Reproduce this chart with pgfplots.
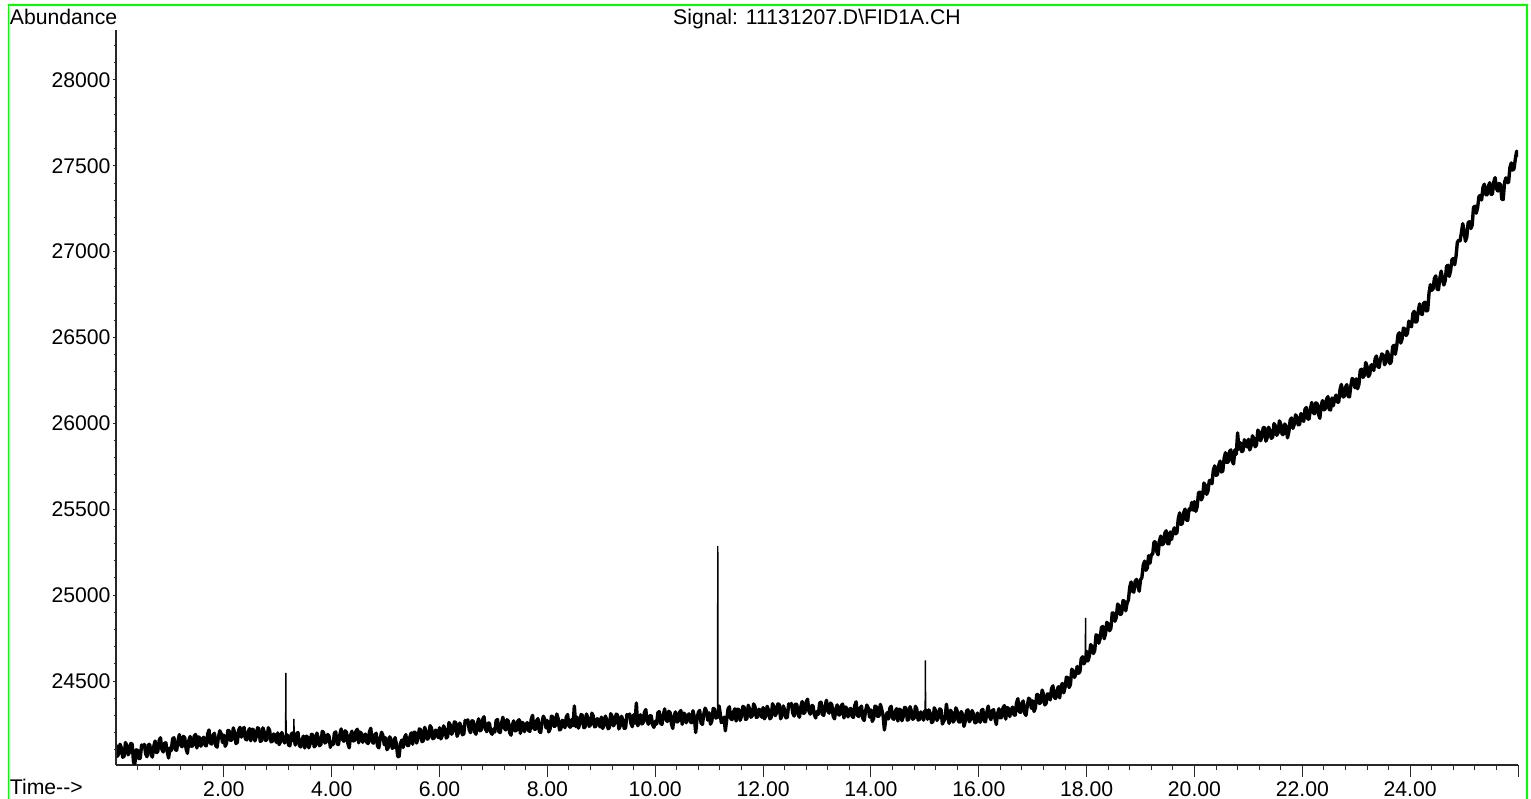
\documentclass[border=0pt]{standalone}
\usepackage{fontspec}
\setmainfont{Liberation Sans}
\usepackage{pgfplots}
\pgfplotsset{compat=1.18}
\definecolor{framegreen}{RGB}{0,255,0}
\definecolor{spine}{RGB}{40,40,40}
\begin{document}
\begin{tikzpicture}
\fontsize{10.6}{12}\selectfont
\path[use as bounding box] (0pt,0pt) rectangle (765.5pt,399pt);
% outer frame of the report page
\draw[framegreen, line width=0.7pt] (4.25pt,-2pt) -- (4.25pt,396.5pt) -- (763.5pt,396.5pt) -- (763.5pt,-2pt);
% trace and time axis
\begin{axis}[
  at={(58pt,16.5pt)}, anchor=south west,
  scale only axis, width=701pt, height=367.5pt,
  xmin=0, xmax=26, ymin=24011, ymax=28291,
  axis x line=bottom, axis y line=none,
  axis line style={-, line width=0.6pt, spine},
  tick align=outside,
  major tick length=6pt, minor tick length=2.5pt,
  every tick/.style={spine, line width=0.5pt},
  scaled x ticks=false, scaled y ticks=false,
  xtick={2,4,6,8,10,12,14,16,18,20,22,24,26},
  xticklabels={2.00,4.00,6.00,8.00,10.00,12.00,14.00,16.00,18.00,20.00,22.00,24.00,{}},
  minor xtick={0.4,0.8,1.2,1.6,2.4,2.8,3.2,3.6,4.4,4.8,5.2,5.6,6.4,6.8,7.2,7.6,8.4,8.8,9.2,9.6,10.4,10.8,11.2,11.6,12.4,12.8,13.2,13.6,14.4,14.8,15.2,15.6,16.4,16.8,17.2,17.6,18.4,18.8,19.2,19.6,20.4,20.8,21.2,21.6,22.4,22.8,23.2,23.6,24.4,24.8,25.2,25.6},
  ytick=\empty,
  tick label style={font=\fontsize{10.6}{12}\selectfont},
  xticklabel style={yshift=1.5pt},
  clip=true,
]
% detector baseline (noisy FID signal)
\addplot[black, line width=1.7pt, line join=round, line cap=round, mark=none] coordinates {
(0.00,24128)(0.025,24061)(0.05,24077)(0.075,24132)(0.10,24110)(0.125,24056)(0.15,24062)(0.175,24142)(0.20,24126)(0.225,24070)(0.25,24085)(0.275,24137)(0.30,24132)(0.325,24026)(0.35,24020)(0.375,24099)(0.40,24097)(0.425,24048)(0.45,24051)(0.475,24128)
(0.50,24115)(0.525,24131)(0.55,24076)(0.575,24059)(0.60,24130)(0.625,24131)(0.65,24071)(0.675,24057)(0.70,24119)(0.725,24151)(0.75,24083)(0.775,24090)(0.80,24153)(0.825,24170)(0.85,24103)(0.875,24087)(0.90,24138)(0.925,24140)(0.95,24089)(0.975,24052)
(1.00,24110)(1.025,24095)(1.05,24163)(1.075,24170)(1.10,24100)(1.125,24097)(1.15,24153)(1.175,24188)(1.20,24127)(1.225,24117)(1.25,24178)(1.275,24170)(1.30,24105)(1.325,24079)(1.35,24153)(1.375,24177)(1.40,24120)(1.425,24123)(1.45,24178)(1.475,24189)
(1.50,24110)(1.525,24175)(1.55,24170)(1.575,24120)(1.60,24158)(1.625,24173)(1.65,24127)(1.675,24122)(1.70,24192)(1.725,24215)(1.75,24138)(1.775,24133)(1.80,24184)(1.825,24196)(1.85,24123)(1.875,24115)(1.90,24174)(1.925,24210)(1.95,24194)(1.975,24142)
(2.00,24185)(2.025,24120)(2.05,24138)(2.075,24212)(2.10,24210)(2.125,24154)(2.15,24158)(2.175,24227)(2.20,24200)(2.225,24136)(2.25,24143)(2.275,24215)(2.30,24230)(2.325,24173)(2.35,24216)(2.375,24230)(2.40,24163)(2.425,24157)(2.45,24203)(2.475,24223)
(2.50,24152)(2.525,24219)(2.55,24216)(2.575,24151)(2.60,24174)(2.625,24228)(2.65,24222)(2.675,24149)(2.70,24152)(2.725,24227)(2.75,24202)(2.775,24153)(2.80,24160)(2.825,24228)(2.85,24211)(2.875,24146)(2.90,24149)(2.925,24192)(2.95,24182)(2.975,24142)
(3.00,24198)(3.025,24130)(3.05,24146)(3.075,24200)(3.10,24178)(3.125,24139)(3.145,24160)(3.155,24150)(3.175,24187)(3.20,24127)(3.225,24123)(3.25,24190)(3.275,24198)(3.295,24150)(3.305,24160)(3.325,24127)(3.35,24194)(3.375,24200)(3.40,24126)(3.425,24116)(3.45,24157)(3.475,24179)
(3.50,24110)(3.525,24178)(3.55,24176)(3.575,24111)(3.60,24134)(3.625,24190)(3.65,24186)(3.675,24117)(3.70,24124)(3.725,24197)(3.75,24170)(3.775,24123)(3.80,24131)(3.825,24207)(3.85,24199)(3.875,24139)(3.90,24146)(3.925,24189)(3.95,24179)(3.975,24114)
(4.00,24145)(4.025,24129)(4.05,24197)(4.075,24204)(4.10,24134)(4.125,24130)(4.15,24186)(4.175,24221)(4.20,24160)(4.225,24149)(4.25,24210)(4.275,24202)(4.30,24137)(4.325,24111)(4.35,24184)(4.375,24208)(4.40,24151)(4.425,24154)(4.45,24208)(4.475,24219)
(4.50,24140)(4.525,24203)(4.55,24195)(4.575,24143)(4.60,24179)(4.625,24191)(4.65,24143)(4.675,24136)(4.70,24204)(4.725,24225)(4.75,24145)(4.775,24138)(4.80,24187)(4.825,24196)(4.85,24121)(4.875,24111)(4.90,24168)(4.925,24202)(4.95,24183)(4.975,24129)
(5.00,24170)(5.025,24100)(5.05,24113)(5.075,24175)(5.10,24161)(5.125,24108)(5.15,24114)(5.175,24171)(5.20,24132)(5.225,24060)(5.25,24060)(5.275,24136)(5.30,24156)(5.325,24113)(5.35,24170)(5.375,24188)(5.40,24126)(5.425,24124)(5.45,24174)(5.475,24198)
(5.50,24132)(5.525,24202)(5.55,24201)(5.575,24139)(5.60,24164)(5.625,24221)(5.65,24217)(5.675,24147)(5.70,24152)(5.725,24230)(5.75,24207)(5.775,24161)(5.80,24170)(5.825,24240)(5.85,24226)(5.875,24164)(5.90,24169)(5.925,24214)(5.95,24207)(5.975,24170)
(6.00,24228)(6.025,24163)(6.05,24182)(6.075,24239)(6.10,24219)(6.125,24168)(6.15,24176)(6.175,24258)(6.20,24244)(6.225,24190)(6.25,24208)(6.275,24262)(6.30,24259)(6.325,24178)(6.35,24197)(6.375,24255)(6.40,24233)(6.425,24187)(6.45,24192)(6.475,24271)
(6.50,24260)(6.525,24274)(6.55,24217)(6.575,24199)(6.60,24268)(6.625,24267)(6.65,24205)(6.675,24190)(6.70,24250)(6.725,24280)(6.75,24210)(6.775,24216)(6.80,24277)(6.825,24292)(6.85,24223)(6.875,24205)(6.90,24255)(6.925,24255)(6.95,24202)(6.975,24190)
(7.00,24220)(7.025,24203)(7.05,24270)(7.075,24276)(7.10,24205)(7.125,24200)(7.15,24255)(7.175,24289)(7.20,24227)(7.225,24215)(7.25,24275)(7.275,24266)(7.30,24200)(7.325,24185)(7.35,24245)(7.375,24268)(7.40,24210)(7.425,24212)(7.45,24265)(7.475,24275)
(7.50,24195)(7.525,24260)(7.55,24255)(7.575,24205)(7.60,24243)(7.625,24258)(7.65,24212)(7.675,24207)(7.70,24277)(7.725,24300)(7.75,24223)(7.775,24218)(7.80,24269)(7.825,24281)(7.85,24208)(7.875,24200)(7.90,24259)(7.925,24295)(7.95,24279)(7.975,24227)
(8.00,24270)(8.025,24204)(8.05,24221)(8.075,24295)(8.10,24292)(8.125,24236)(8.15,24239)(8.175,24308)(8.20,24280)(8.225,24215)(8.25,24221)(8.275,24271)(8.30,24265)(8.325,24228)(8.35,24291)(8.375,24305)(8.40,24238)(8.425,24231)(8.45,24276)(8.475,24240)
(8.50,24355)(8.525,24235)(8.55,24290)(8.575,24226)(8.60,24250)(8.625,24305)(8.65,24300)(8.675,24228)(8.70,24232)(8.725,24308)(8.75,24284)(8.775,24236)(8.80,24244)(8.825,24313)(8.85,24297)(8.875,24233)(8.90,24237)(8.925,24281)(8.95,24272)(8.975,24233)
(9.00,24290)(9.025,24224)(9.05,24241)(9.075,24296)(9.10,24275)(9.125,24222)(9.15,24229)(9.175,24310)(9.20,24294)(9.225,24239)(9.25,24255)(9.275,24307)(9.30,24303)(9.325,24221)(9.35,24238)(9.375,24295)(9.40,24272)(9.425,24224)(9.45,24227)(9.475,24305)
(9.50,24293)(9.525,24308)(9.55,24252)(9.575,24234)(9.60,24304)(9.625,24255)(9.65,24372)(9.675,24240)(9.70,24258)(9.725,24304)(9.75,24250)(9.775,24256)(9.80,24318)(9.825,24334)(9.85,24265)(9.875,24248)(9.90,24298)(9.925,24298)(9.95,24246)(9.975,24230)
(10.00,24265)(10.025,24249)(10.05,24316)(10.075,24322)(10.10,24252)(10.125,24248)(10.15,24303)(10.175,24338)(10.20,24276)(10.225,24264)(10.25,24324)(10.275,24316)(10.30,24251)(10.325,24224)(10.35,24297)(10.375,24320)(10.40,24262)(10.425,24264)(10.45,24317)(10.475,24328)
(10.50,24248)(10.525,24313)(10.55,24307)(10.575,24257)(10.60,24295)(10.625,24309)(10.65,24263)(10.675,24257)(10.70,24327)(10.725,24290)(10.75,24200)(10.775,24280)(10.80,24318)(10.825,24329)(10.85,24255)(10.875,24247)(10.90,24306)(10.925,24342)(10.95,24325)(10.975,24272)
(11.00,24315)(11.025,24249)(11.05,24267)(11.075,24340)(11.10,24337)(11.125,24284)(11.15,24290)(11.155,24300)(11.165,24290)(11.183,24355)(11.20,24323)(11.225,24258)(11.25,24265)(11.275,24290)(11.30,24210)(11.325,24275)(11.35,24337)(11.375,24350)(11.40,24282)(11.425,24275)(11.45,24319)(11.475,24338)
(11.50,24267)(11.525,24336)(11.55,24334)(11.575,24271)(11.60,24296)(11.625,24352)(11.65,24347)(11.675,24276)(11.70,24281)(11.725,24359)(11.75,24336)(11.775,24289)(11.80,24298)(11.825,24367)(11.85,24351)(11.875,24288)(11.90,24292)(11.925,24336)(11.95,24327)(11.975,24289)
(12.00,24346)(12.025,24280)(12.05,24297)(12.075,24353)(12.10,24332)(12.125,24280)(12.15,24287)(12.175,24368)(12.20,24353)(12.225,24298)(12.25,24315)(12.275,24367)(12.30,24363)(12.325,24280)(12.35,24297)(12.375,24355)(12.40,24332)(12.425,24285)(12.45,24289)(12.475,24367)
(12.50,24355)(12.525,24370)(12.55,24314)(12.575,24296)(12.60,24365)(12.625,24364)(12.65,24303)(12.675,24289)(12.70,24350)(12.725,24381)(12.75,24311)(12.775,24317)(12.80,24379)(12.825,24394)(12.85,24325)(12.875,24307)(12.90,24357)(12.925,24357)(12.95,24305)(12.975,24285)
(13.00,24323)(13.025,24306)(13.05,24372)(13.075,24377)(13.10,24306)(13.125,24300)(13.15,24354)(13.175,24388)(13.20,24325)(13.225,24313)(13.25,24372)(13.275,24362)(13.30,24295)(13.325,24280)(13.35,24339)(13.375,24361)(13.40,24302)(13.425,24303)(13.45,24356)(13.475,24366)
(13.50,24285)(13.525,24349)(13.55,24342)(13.575,24291)(13.60,24328)(13.625,24341)(13.65,24294)(13.675,24288)(13.70,24357)(13.725,24379)(13.75,24300)(13.775,24293)(13.80,24342)(13.825,24354)(13.85,24282)(13.875,24270)(13.90,24325)(13.925,24360)(13.95,24343)(13.975,24290)
(14.00,24332)(14.025,24265)(14.05,24281)(14.075,24354)(14.10,24351)(14.125,24294)(14.15,24296)(14.175,24364)(14.20,24335)(14.225,24300)(14.25,24215)(14.275,24280)(14.30,24316)(14.325,24279)(14.35,24341)(14.375,24353)(14.40,24284)(14.425,24277)(14.45,24321)(14.475,24339)
(14.50,24267)(14.525,24335)(14.55,24333)(14.575,24269)(14.60,24292)(14.625,24347)(14.65,24342)(14.675,24272)(14.70,24277)(14.725,24351)(14.75,24325)(14.775,24277)(14.80,24284)(14.825,24353)(14.85,24337)(14.875,24273)(14.90,24276)(14.925,24320)(14.95,24311)(14.975,24272)
(15.00,24328)(15.005,24300)(15.015,24295)(15.033,24330)(15.05,24277)(15.075,24332)(15.10,24311)(15.125,24258)(15.15,24264)(15.175,24344)(15.20,24327)(15.225,24271)(15.25,24286)(15.275,24338)(15.30,24333)(15.325,24250)(15.35,24266)(15.375,24280)(15.40,24365)(15.425,24300)(15.45,24253)(15.475,24330)
(15.50,24317)(15.525,24261)(15.55,24274)(15.575,24344)(15.60,24325)(15.625,24263)(15.65,24261)(15.675,24322)(15.70,24306)(15.725,24236)(15.75,24266)(15.775,24327)(15.80,24332)(15.825,24263)(15.85,24278)(15.875,24328)(15.90,24310)(15.925,24258)(15.95,24257)(15.975,24314)
(16.00,24275)(16.025,24260)(16.05,24328)(16.075,24335)(16.10,24266)(16.125,24263)(16.15,24319)(16.175,24354)(16.20,24293)(16.225,24275)(16.25,24328)(16.275,24333)(16.30,24282)(16.325,24247)(16.35,24312)(16.375,24339)(16.40,24285)(16.425,24289)(16.45,24345)(16.475,24357)
(16.50,24278)(16.525,24345)(16.55,24341)(16.575,24293)(16.60,24332)(16.625,24348)(16.65,24304)(16.675,24301)(16.70,24373)(16.725,24397)(16.75,24321)(16.775,24318)(16.80,24371)(16.825,24384)(16.85,24313)(16.875,24300)(16.90,24355)(16.925,24400)(16.95,24393)(16.975,24341)
(17.00,24385)(17.025,24323)(17.05,24344)(17.075,24421)(17.10,24422)(17.125,24369)(17.15,24375)(17.175,24447)(17.20,24423)(17.225,24361)(17.25,24371)(17.275,24425)(17.30,24423)(17.325,24390)(17.35,24457)(17.375,24472)(17.40,24406)(17.425,24398)(17.45,24442)(17.475,24467)
(17.50,24402)(17.525,24470)(17.55,24486)(17.575,24431)(17.60,24463)(17.625,24522)(17.65,24520)(17.675,24462)(17.70,24480)(17.725,24569)(17.75,24558)(17.775,24521)(17.80,24540)(17.825,24585)(17.85,24545)(17.875,24554)(17.90,24630)(17.925,24641)(17.95,24600)(17.975,24615)(17.985,24625)
(18.00,24673)(18.025,24617)(18.05,24645)(18.075,24712)(18.10,24702)(18.125,24660)(18.15,24677)(18.175,24769)(18.20,24765)(18.225,24720)(18.25,24747)(18.275,24811)(18.30,24818)(18.325,24746)(18.35,24774)(18.375,24842)(18.40,24830)(18.425,24793)(18.45,24807)(18.475,24896)
(18.50,24895)(18.525,24848)(18.55,24870)(18.575,24948)(18.60,24938)(18.625,24887)(18.65,24895)(18.675,24968)(18.70,24965)(18.725,24909)(18.75,24953)(18.775,24972)(18.80,25047)(18.825,25077)(18.85,25023)(18.875,25018)(18.90,25080)(18.925,25092)(18.95,25052)(18.975,25023)
(19.00,25090)(19.025,25103)(19.05,25175)(19.075,25198)(19.10,25145)(19.125,25158)(19.15,25230)(19.175,25186)(19.20,25237)(19.225,25238)(19.25,25310)(19.275,25311)(19.30,25255)(19.325,25235)(19.35,25315)(19.375,25344)(19.40,25293)(19.425,25301)(19.45,25360)(19.475,25375)
(19.50,25300)(19.525,25299)(19.55,25368)(19.575,25324)(19.60,25367)(19.625,25392)(19.65,25357)(19.675,25364)(19.70,25446)(19.725,25479)(19.75,25412)(19.775,25418)(19.80,25480)(19.825,25501)(19.85,25437)(19.875,25436)(19.90,25502)(19.925,25495)(19.95,25540)(19.975,25495)
(20.00,25545)(20.025,25488)(20.05,25515)(20.075,25596)(20.10,25600)(20.125,25555)(20.15,25570)(20.175,25653)(20.20,25640)(20.225,25587)(20.25,25605)(20.275,25666)(20.30,25670)(20.325,25649)(20.35,25727)(20.375,25753)(20.40,25698)(20.425,25701)(20.45,25755)(20.475,25781)
(20.50,25717)(20.525,25723)(20.55,25798)(20.575,25830)(20.60,25773)(20.625,25775)(20.65,25836)(20.675,25846)(20.70,25780)(20.725,25764)(20.75,25847)(20.775,25820)(20.80,25945)(20.825,25850)(20.85,25888)(20.875,25836)(20.90,25840)(20.925,25905)(20.95,25885)(20.975,25863)
(21.00,25908)(21.025,25846)(21.05,25868)(21.075,25928)(21.10,25912)(21.125,25864)(21.15,25875)(21.175,25961)(21.20,25950)(21.225,25899)(21.25,25920)(21.275,25976)(21.30,25976)(21.325,25897)(21.35,25918)(21.375,25978)(21.40,25958)(21.425,25913)(21.45,25920)(21.475,25999)
(21.50,25987)(21.525,25931)(21.55,25945)(21.575,26015)(21.60,25997)(21.625,25936)(21.65,25935)(21.675,25997)(21.70,25982)(21.725,25916)(21.75,25950)(21.775,26019)(21.80,26032)(21.825,25971)(21.85,25993)(21.875,26050)(21.90,26038)(21.925,25991)(21.95,25995)(21.975,26058)
(22.00,26025)(22.025,26012)(22.05,26083)(22.075,26093)(22.10,26026)(22.125,26025)(22.15,26084)(22.175,26122)(22.20,26064)(22.225,26056)(22.25,26120)(22.275,26115)(22.30,26053)(22.325,26030)(22.35,26106)(22.375,26133)(22.40,26079)(22.425,26085)(22.45,26142)(22.475,26156)
(22.50,26080)(22.525,26079)(22.55,26148)(22.575,26103)(22.60,26145)(22.625,26165)(22.65,26124)(22.675,26124)(22.70,26199)(22.725,26227)(22.75,26155)(22.775,26155)(22.80,26210)(22.825,26226)(22.85,26157)(22.875,26155)(22.90,26220)(22.925,26262)(22.95,26252)(22.975,26208)
(23.00,26260)(23.025,26202)(23.05,26228)(23.075,26310)(23.10,26316)(23.125,26268)(23.15,26280)(23.175,26355)(23.20,26333)(23.225,26273)(23.25,26285)(23.275,26341)(23.30,26340)(23.325,26308)(23.35,26376)(23.375,26393)(23.40,26330)(23.425,26327)(23.45,26375)(23.475,26405)
(23.50,26398)(23.525,26342)(23.55,26356)(23.575,26420)(23.60,26396)(23.625,26348)(23.65,26360)(23.675,26446)(23.70,26455)(23.725,26403)(23.75,26450)(23.775,26517)(23.80,26528)(23.825,26468)(23.85,26492)(23.875,26555)(23.90,26550)(23.925,26512)(23.95,26525)(23.975,26596)
(24.00,26570)(24.025,26563)(24.05,26640)(24.075,26653)(24.10,26590)(24.125,26593)(24.15,26655)(24.175,26696)(24.20,26640)(24.225,26634)(24.25,26700)(24.275,26706)(24.30,26655)(24.325,26658)(24.35,26760)(24.375,26808)(24.40,26775)(24.425,26784)(24.45,26845)(24.475,26859)
(24.50,26782)(24.525,26779)(24.55,26846)(24.575,26887)(24.60,26840)(24.625,26806)(24.65,26832)(24.675,26915)(24.70,26921)(24.725,26856)(24.75,26890)(24.775,26953)(24.80,26960)(24.825,26924)(24.85,26972)(24.875,27054)(24.90,27067)(24.925,27063)(24.95,27110)(24.975,27163)
(25.00,27120)(25.025,27061)(25.05,27085)(25.075,27168)(25.10,27175)(25.125,27135)(25.15,27155)(25.175,27258)(25.20,27265)(25.225,27224)(25.25,27255)(25.275,27320)(25.30,27328)(25.325,27301)(25.35,27373)(25.375,27393)(25.40,27333)(25.425,27331)(25.45,27380)(25.475,27402)
(25.50,27334)(25.525,27335)(25.55,27406)(25.575,27431)(25.60,27368)(25.625,27353)(25.65,27398)(25.675,27390)(25.70,27305)(25.725,27304)(25.75,27402)(25.775,27430)(25.80,27402)(25.825,27404)(25.85,27490)(25.875,27517)(25.90,27475)(25.925,27482)(25.95,27540)(25.975,27585)(26.00,27560)
};
% sharp peaks
\addplot[black, line width=0.7pt, mark=none] coordinates {(3.145,24160)(3.15,24547)(3.155,24150)};
\addplot[black, line width=0.7pt, mark=none] coordinates {(3.295,24150)(3.30,24280)(3.305,24160)};
\addplot[black, line width=0.7pt, mark=none] coordinates {(11.155,24300)(11.16,25286)(11.165,24290)};
\addplot[black, line width=0.7pt, mark=none] coordinates {(15.005,24300)(15.01,24620)(15.015,24295)};
\addplot[black, line width=0.7pt, mark=none] coordinates {(17.975,24615)(17.98,24867)(17.985,24625)};
\end{axis}
% abundance axis
\begin{axis}[
  at={(58pt,16.5pt)}, anchor=south west,
  scale only axis, width=701pt, height=367.5pt,
  xmin=0, xmax=26, ymin=24011, ymax=28291,
  axis x line=none, axis y line=left,
  axis line style={-, line width=0.6pt, spine},
  tick align=outside,
  major tick length=1.5pt, minor tick length=1pt,
  every tick/.style={spine, line width=0.5pt},
  scaled x ticks=false, scaled y ticks=false,
  xtick=\empty,
  ytick={24500,25000,25500,26000,26500,27000,27500,28000},
  yticklabels={24500,25000,25500,26000,26500,27000,27500,28000},
  minor ytick={24100,24200,24300,24400,24600,24700,24800,24900,25100,25200,25300,25400,25600,25700,25800,25900,26100,26200,26300,26400,26600,26700,26800,26900,27100,27200,27300,27400,27600,27700,27800,27900,28100,28200},
  tick label style={font=\fontsize{10.6}{12}\selectfont},
  yticklabel style={xshift=2.5pt},
]
\end{axis}
\node[anchor=base west, inner sep=0pt] at (4.75pt,386.5pt) {Abundance};
\node[anchor=base, inner sep=0pt] at (408.5pt,386.5pt) {Signal: 11131207.D\textbackslash FID1A.CH};
\node[anchor=base west, inner sep=0pt] at (4.75pt,2pt) {Time-{}-{}>};
\end{tikzpicture}
\end{document}
